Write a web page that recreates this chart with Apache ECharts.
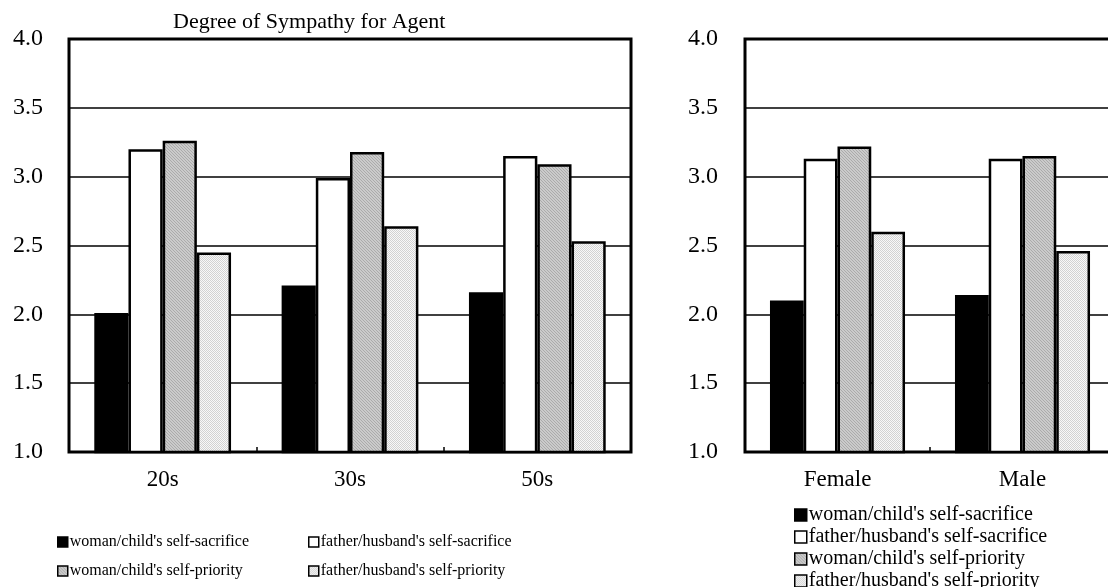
<!DOCTYPE html>
<html>
<head>
<meta charset="utf-8">
<title>Degree of Sympathy for Agent</title>
<script src="https://cdn.jsdelivr.net/npm/echarts@6/dist/echarts.min.js"></script>
<style>
  html, body { margin: 0; padding: 0; background: #fff; overflow: hidden; }
  /* the gender panel and its key run a little past the page edges */
  #chart { width: 1124px; height: 600px; }
</style>
</head>
<body>
<div id="chart"></div>
<script>
// Age groups and gender groups
const ageGroups = ['20s', '30s', '50s'];
const genderGroups = ['Female', 'Male'];

// Scenario names (one bar per scenario in every group)
const scenarios = [
  "woman/child's self-sacrifice",
  "father/husband's self-sacrifice",
  "woman/child's self-priority",
  "father/husband's self-priority"
];

// Mean sympathy by age group, one array per scenario
const ageWomanSacrifice  = [2.01, 2.21, 2.16];
const ageFatherSacrifice = [3.20, 2.99, 3.15];
const ageWomanPriority   = [3.26, 3.18, 3.09];
const ageFatherPriority  = [2.45, 2.64, 2.53];

// Mean sympathy by gender, one array per scenario
const genWomanSacrifice  = [2.10, 2.14];
const genFatherSacrifice = [3.13, 3.13];
const genWomanPriority   = [3.22, 3.15];
const genFatherPriority  = [2.60, 2.46];

const yTicks = [1.0, 1.5, 2.0, 2.5, 3.0, 3.5, 4.0];

const FONT = "'Liberation Serif', 'Times New Roman', serif";

// Small tiled fills: fine grey hatching and a light dotted screen
function hatchPattern() {
  const c = document.createElement('canvas');
  c.width = 3; c.height = 3;
  const g = c.getContext('2d');
  g.fillStyle = '#cbcbcb';
  g.fillRect(0, 0, 3, 3);
  g.fillStyle = '#ababab';
  for (let i = 0; i < 3; i++) g.fillRect((i + 1) % 3, i, 1, 1);
  return { image: c, repeat: 'repeat' };
}
function dotPattern() {
  const c = document.createElement('canvas');
  c.width = 2; c.height = 2;
  const g = c.getContext('2d');
  g.fillStyle = '#f8f8f8';
  g.fillRect(0, 0, 2, 2);
  g.fillStyle = '#d2d2d2';
  g.fillRect(0, 0, 1, 1);
  g.fillRect(1, 1, 1, 1);
  return { image: c, repeat: 'repeat' };
}

const fills = ['#000000', '#ffffff', hatchPattern(), dotPattern()];

const ageData = [ageWomanSacrifice, ageFatherSacrifice, ageWomanPriority, ageFatherPriority];
const genData = [genWomanSacrifice, genFatherSacrifice, genWomanPriority, genFatherPriority];

function barSeries(axisIndex, dataSets) {
  return scenarios.map((name, i) => ({
    name: name,
    type: 'bar',
    xAxisIndex: axisIndex,
    yAxisIndex: axisIndex,
    data: dataSets[i],
    barGap: '0%',
    barCategoryGap: '27%',
    itemStyle: { color: fills[i], borderColor: '#000', borderWidth: 2.5 },
    emphasis: { disabled: true },
    animation: false
  }));
}

function yAxis(gridIndex, margin) {
  return {
    type: 'value',
    gridIndex: gridIndex,
    min: yTicks[0],
    max: yTicks[yTicks.length - 1],
    interval: 0.5,
    axisLine: { show: false },
    axisTick: { show: false },
    axisLabel: {
      color: '#000', fontFamily: FONT, fontSize: 24, margin: margin,
      formatter: v => v.toFixed(1)
    },
    splitLine: { lineStyle: { color: '#000', width: 1.5 } }
  };
}

function xAxis(gridIndex, cats) {
  return {
    type: 'category',
    gridIndex: gridIndex,
    data: cats,
    axisLine: { show: false },
    axisTick: { show: true, inside: true, length: 5, lineStyle: { color: '#000', width: 1.5 } },
    axisLabel: { color: '#000', fontFamily: FONT, fontSize: 23, margin: 16 }
  };
}

const legendItem = { borderColor: '#000', borderWidth: 1.5 };

function legendBlock(names, left, top, fontSize, gap, box) {
  return {
    data: names, orient: 'vertical', left: left, top: top,
    icon: 'rect', itemWidth: box, itemHeight: box, itemGap: gap,
    textStyle: { color: '#000', fontFamily: FONT, fontSize: fontSize, padding: [0, 0, 0, -3] },
    itemStyle: legendItem, selectedMode: false
  };
}

const chart = echarts.init(document.getElementById('chart'), null, { renderer: 'canvas' });
chart.setOption({
  backgroundColor: '#fff',
  animation: false,
  title: {
    text: 'Degree of Sympathy for Agent',
    left: 168, top: 6,
    textStyle: { color: '#000', fontFamily: FONT, fontSize: 22, fontWeight: 'normal' }
  },
  grid: [
    { left: 69, top: 39, width: 562, height: 413, show: true, borderColor: '#000', borderWidth: 3, backgroundColor: 'transparent' },
    { left: 745, top: 39, width: 370, height: 413, show: true, borderColor: '#000', borderWidth: 3, backgroundColor: 'transparent' }
  ],
  xAxis: [xAxis(0, ageGroups), xAxis(1, genderGroups)],
  yAxis: [yAxis(0, 26), yAxis(1, 27)],
  legend: [
    legendBlock([scenarios[0], scenarios[2]], 52, 529, 16, 13, 10),
    legendBlock([scenarios[1], scenarios[3]], 303, 529, 16, 13, 10),
    legendBlock(scenarios, 789, 500, 20, 2, 12)
  ],
  series: barSeries(0, ageData).concat(barSeries(1, genData))
});
</script>
</body>
</html>
